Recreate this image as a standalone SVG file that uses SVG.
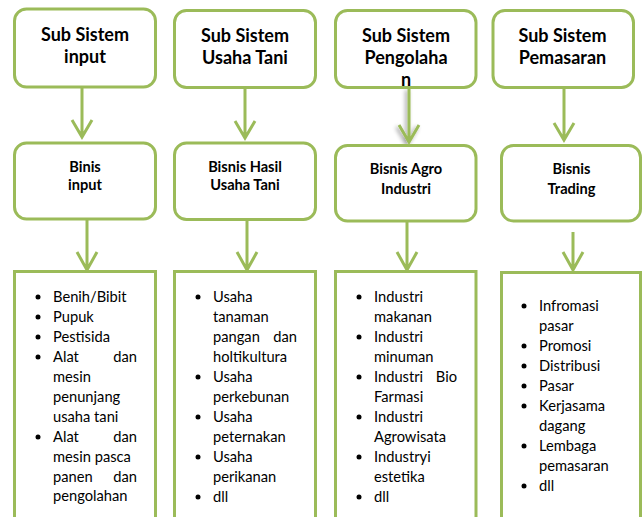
<svg xmlns="http://www.w3.org/2000/svg" width="643" height="517" viewBox="0 0 643 517">
<defs>
<style>
.box{fill:#ffffff;stroke:#9BBB59;stroke-width:3}
.con{fill:none;stroke:#9BBB59;stroke-width:3;stroke-linejoin:miter}
.t1{font-family:Lato,"Liberation Sans",sans-serif;font-weight:bold;font-size:18px;fill:#000;text-anchor:middle}
.t2{font-family:Lato,"Liberation Sans",sans-serif;font-weight:bold;font-size:14.6px;fill:#000;text-anchor:middle}
.li{font-family:Lato,"Liberation Sans",sans-serif;font-size:14.7px;fill:#000}
.r{text-anchor:end}
.b{fill:#000}
</style>
<filter id="sh" x="-100%" y="-20%" width="300%" height="140%">
<feGaussianBlur in="SourceAlpha" stdDeviation="2"/>
<feOffset dx="-2" dy="2" result="o"/>
<feComponentTransfer><feFuncA type="linear" slope="0.4"/></feComponentTransfer>
<feMerge><feMergeNode/><feMergeNode in="SourceGraphic"/></feMerge>
</filter>
</defs>
<rect width="643" height="517" fill="#ffffff"/>

<g id="connectors">
<path class="con" d="M82 87V136M72 120L82 137L92 120"/>
<path class="con" d="M245 88V137M235 121L245 138L255 121"/>
<path class="con" filter="url(#sh)" d="M409 88V141M399 125L409 142L419 125"/>
<path class="con" d="M564 88V139M554 123L564 140L574 123"/>
<path class="con" d="M87 220V269M77 252L87 270L97 252"/>
<path class="con" d="M247 220V269M237 252L247 270L257 252"/>
<path class="con" d="M407 222V269M397 252L407 270L417 252"/>
<path class="con" d="M573 232V269M563 252L573 270L583 252"/>
</g>

<g id="sub-input">
<rect class="box" x="14.5" y="9" width="141" height="78" rx="12"/>
<text class="t1" x="85" y="41">Sub Sistem</text>
<text class="t1" x="85" y="63">input</text>
</g>
<g id="sub-usahatani">
<rect class="box" x="174.5" y="10.5" width="141" height="77" rx="12"/>
<text class="t1" x="245" y="42">Sub Sistem</text>
<text class="t1" x="245" y="64">Usaha Tani</text>
</g>
<g id="sub-pengolahan">
<rect class="box" x="335.5" y="10.5" width="140.5" height="77" rx="12"/>
<text class="t1" x="406" y="42">Sub Sistem</text>
<text class="t1" x="406" y="64">Pengolaha</text>
<text class="t1" x="406" y="86">n</text>
</g>
<g id="sub-pemasaran">
<rect class="box" x="493" y="10.5" width="140.5" height="77" rx="12"/>
<text class="t1" x="562.5" y="42">Sub Sistem</text>
<text class="t1" x="562.5" y="64">Pemasaran</text>
</g>

<g id="bisnis-input">
<rect class="box" x="14.5" y="143" width="141" height="76" rx="12"/>
<text class="t2" x="85" y="172">Binis</text>
<text class="t2" x="85" y="190">input</text>
</g>
<g id="bisnis-hasil">
<rect class="box" x="174.5" y="143" width="141" height="76.5" rx="12"/>
<text class="t2" x="245" y="172">Bisnis Hasil</text>
<text class="t2" x="245" y="190">Usaha Tani</text>
</g>
<g id="bisnis-agro">
<rect class="box" x="335.5" y="145.5" width="140.5" height="75.5" rx="12"/>
<text class="t2" x="406" y="174">Bisnis Agro</text>
<text class="t2" x="406" y="194">Industri</text>
</g>
<g id="bisnis-trading">
<rect class="box" x="501.5" y="145.5" width="139" height="75.5" rx="12"/>
<text class="t2" x="571.5" y="174">Bisnis</text>
<text class="t2" x="571.5" y="194">Trading</text>
</g>

<g id="list-input">
<rect class="box" x="14.5" y="271.5" width="141" height="260"/>
<circle class="b" cx="38" cy="297" r="2.5"/>
<circle class="b" cx="38" cy="317" r="2.5"/>
<circle class="b" cx="38" cy="337" r="2.5"/>
<circle class="b" cx="38" cy="357" r="2.5"/>
<circle class="b" cx="38" cy="437" r="2.5"/>
<text class="li" x="53" y="302">Benih/Bibit</text>
<text class="li" x="53" y="322">Pupuk</text>
<text class="li" x="53" y="342">Pestisida</text>
<text class="li" x="53" y="362">Alat</text><text class="li r" x="137" y="362">dan</text>
<text class="li" x="53" y="382">mesin</text>
<text class="li" x="53" y="402">penunjang</text>
<text class="li" x="53" y="422">usaha tani</text>
<text class="li" x="53" y="442">Alat</text><text class="li r" x="137" y="442">dan</text>
<text class="li" x="53" y="462">mesin pasca</text>
<text class="li" x="53" y="482">panen</text><text class="li r" x="137" y="482">dan</text>
<text class="li" x="53" y="501">pengolahan</text>
</g>

<g id="list-usahatani">
<rect class="box" x="174.5" y="271.5" width="141" height="260"/>
<circle class="b" cx="198" cy="297" r="2.5"/>
<circle class="b" cx="198" cy="377" r="2.5"/>
<circle class="b" cx="198" cy="417" r="2.5"/>
<circle class="b" cx="198" cy="457" r="2.5"/>
<circle class="b" cx="198" cy="497" r="2.5"/>
<text class="li" x="213" y="302">Usaha</text>
<text class="li" x="213" y="322">tanaman</text>
<text class="li" x="213" y="342">pangan</text><text class="li r" x="297" y="342">dan</text>
<text class="li" x="213" y="362">holtikultura</text>
<text class="li" x="213" y="382">Usaha</text>
<text class="li" x="213" y="402">perkebunan</text>
<text class="li" x="213" y="422">Usaha</text>
<text class="li" x="213" y="442">peternakan</text>
<text class="li" x="213" y="462">Usaha</text>
<text class="li" x="213" y="482">perikanan</text>
<text class="li" x="213" y="502">dll</text>
</g>

<g id="list-agro">
<rect class="box" x="335.5" y="271.5" width="140.5" height="260"/>
<circle class="b" cx="359" cy="297" r="2.5"/>
<circle class="b" cx="359" cy="337" r="2.5"/>
<circle class="b" cx="359" cy="377" r="2.5"/>
<circle class="b" cx="359" cy="417" r="2.5"/>
<circle class="b" cx="359" cy="457" r="2.5"/>
<circle class="b" cx="359" cy="497" r="2.5"/>
<text class="li" x="374" y="302">Industri</text>
<text class="li" x="374" y="322">makanan</text>
<text class="li" x="374" y="342">Industri</text>
<text class="li" x="374" y="362">minuman</text>
<text class="li" x="374" y="382">Industri</text><text class="li r" x="457" y="382">Bio</text>
<text class="li" x="374" y="402">Farmasi</text>
<text class="li" x="374" y="422">Industri</text>
<text class="li" x="374" y="442">Agrowisata</text>
<text class="li" x="374" y="462">Industryi</text>
<text class="li" x="374" y="482">estetika</text>
<text class="li" x="374" y="502">dll</text>
</g>

<g id="list-trading">
<rect class="box" x="501.5" y="272.5" width="139" height="260"/>
<circle class="b" cx="524" cy="306" r="2.5"/>
<circle class="b" cx="524" cy="346" r="2.5"/>
<circle class="b" cx="524" cy="366" r="2.5"/>
<circle class="b" cx="524" cy="386" r="2.5"/>
<circle class="b" cx="524" cy="406" r="2.5"/>
<circle class="b" cx="524" cy="446" r="2.5"/>
<circle class="b" cx="524" cy="486" r="2.5"/>
<text class="li" x="539" y="311">Infromasi</text>
<text class="li" x="539" y="331">pasar</text>
<text class="li" x="539" y="351">Promosi</text>
<text class="li" x="539" y="371">Distribusi</text>
<text class="li" x="539" y="391">Pasar</text>
<text class="li" x="539" y="411">Kerjasama</text>
<text class="li" x="539" y="431">dagang</text>
<text class="li" x="539" y="451">Lembaga</text>
<text class="li" x="539" y="471">pemasaran</text>
<text class="li" x="539" y="491">dll</text>
</g>
</svg>
